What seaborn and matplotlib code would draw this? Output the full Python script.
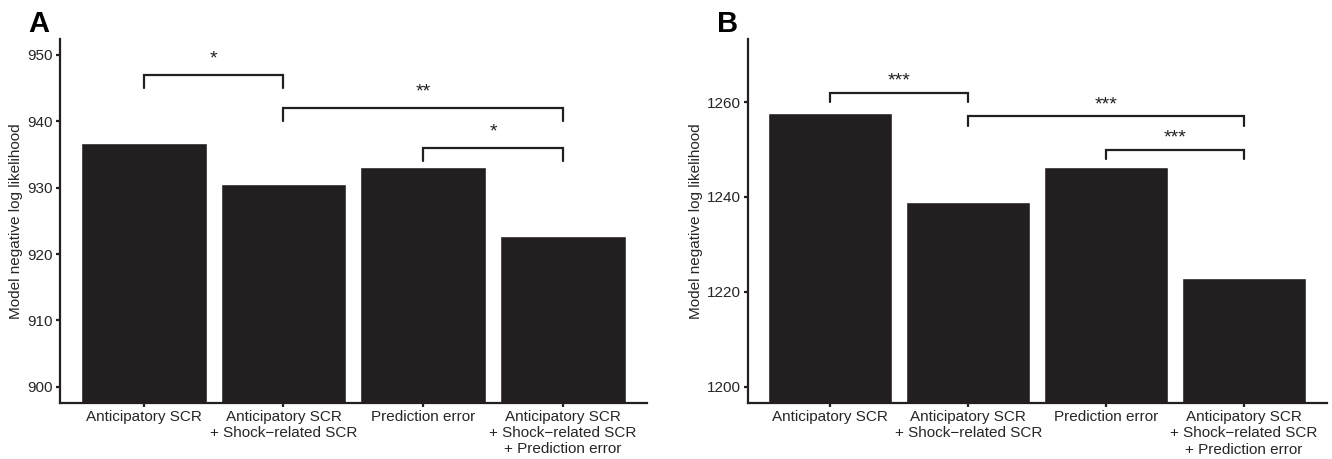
import pandas as pd
import seaborn as sns
import matplotlib.pyplot as plt

# model labels (x categories)
models = [
    "Anticipatory SCR",
    "Anticipatory SCR\n+ Shock\u2212related SCR",
    "Prediction error",
    "Anticipatory SCR\n+ Shock\u2212related SCR\n+ Prediction error",
]

# negative log likelihood per model
nll_a = [936.7, 930.5, 933.1, 922.7]
nll_b = [1257.8, 1238.9, 1246.3, 1223.0]

# significance brackets: (from, to), height, label
pairs = [(0, 1), (1, 3), (2, 3)]
heights_a = [947.0, 942.0, 936.0]
heights_b = [1262.0, 1257.0, 1250.0]
stars_a = ["*", "**", "*"]
stars_b = ["***", "***", "***"]

ylim_a = (897.6, 952.4)
ylim_b = (1196.5, 1273.3)
yticks_a = [900, 910, 920, 930, 940, 950]
yticks_b = [1200, 1220, 1240, 1260]

BAR = "#231f20"

sns.set_style("ticks")
plt.rcParams["font.family"] = ["Liberation Sans", "DejaVu Sans"]


def panel(ax, values, heights, stars, ylim, yticks):
    df = pd.DataFrame({"model": models, "nll": values})
    sns.barplot(data=df, x="model", y="nll", color=BAR, saturation=1,
                width=0.9, ax=ax)
    ax.set_ylim(*ylim)
    ax.set_xlim(-0.6, 3.6)
    ax.set_yticks(yticks)
    ax.set_xlabel("")
    ax.set_ylabel("Model negative log likelihood", fontsize=11, labelpad=3)
    ax.tick_params(axis="both", labelsize=11, length=3, width=1.6,
                   color="#231f20", pad=2)
    for lab in ax.get_xticklabels():
        lab.set_multialignment("center")
    for side in ["top", "right"]:
        ax.spines[side].set_visible(False)
    for side in ["left", "bottom"]:
        ax.spines[side].set_linewidth(1.6)
        ax.spines[side].set_color("#231f20")

    for (i, j), h, s in zip(pairs, heights, stars):
        ax.plot([i, i, j, j], [h - 2, h, h, h - 2], color=BAR, lw=1.6,
                solid_joinstyle="miter", clip_on=False)
        ax.annotate(s, xy=((i + j) / 2, h + 2.7), xytext=(0, -4.4),
                    textcoords="offset points", ha="center", va="baseline",
                    fontsize=14, color=BAR)


fig = plt.figure(figsize=(13.32, 4.59), dpi=100)
ax_a = fig.add_axes([0.045, 0.1225, 0.4405, 0.7925])
ax_b = fig.add_axes([0.5613, 0.1213, 0.4347, 0.7937])

panel(ax_a, nll_a, heights_a, stars_a, ylim_a, yticks_a)
panel(ax_b, nll_b, heights_b, stars_b, ylim_b, yticks_b)

fig.text(0.021, 0.93, "A", fontsize=21, fontweight="bold", va="baseline",
         color="black")
fig.text(0.538, 0.93, "B", fontsize=21, fontweight="bold", va="baseline",
         color="black")

fig.savefig("out.png", dpi=100)
